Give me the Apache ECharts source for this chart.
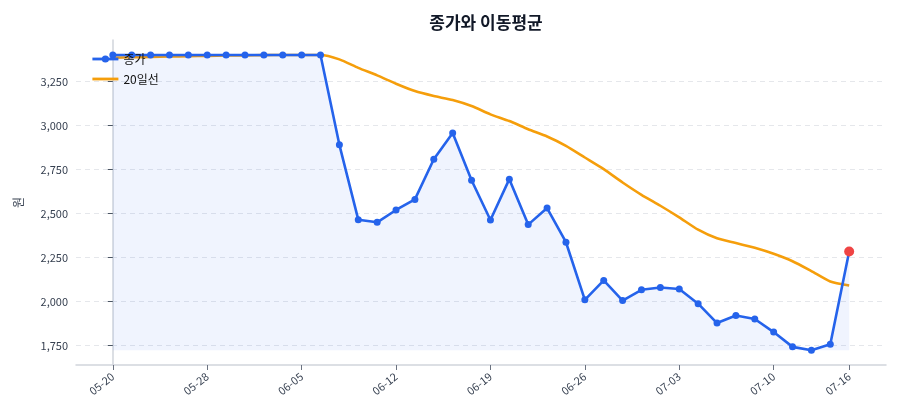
<!DOCTYPE html>
<html>
<head>
<meta charset="utf-8">
<script src="https://cdn.jsdelivr.net/npm/echarts@6/dist/echarts.min.js"></script>
<style>
  html, body { margin: 0; padding: 0; background: #fff; }
  #chart { width: 900px; height: 420px; }
</style>
</head>
<body>
<div id="chart"></div>
<script>
// 거래일 (MM-DD)
const dates = [
    '05-20', '05-21', '05-22', '05-23', '05-27', '05-28', '05-29', '05-30', '06-02', '06-04',
    '06-05', '06-06', '06-09', '06-10', '06-11', '06-12', '06-13', '06-16', '06-17', '06-18',
    '06-19', '06-20', '06-23', '06-24', '06-25', '06-26', '06-27', '06-30', '07-01', '07-02',
    '07-03', '07-04', '07-07', '07-08', '07-09', '07-10', '07-11', '07-14', '07-15', '07-16'
];

// 종가
const close = [
    3400, 3400, 3400, 3400, 3400, 3400, 3400, 3400, 3400, 3400,
    3400, 3400, 2890, 2465, 2450, 2520, 2580, 2808, 2957, 2689,
    2463, 2695, 2437, 2531, 2337, 2010, 2120, 2006, 2067, 2080,
    2071, 1988, 1878, 1921, 1901, 1827, 1743, 1724, 1758, 2284
];

// 20일 이동평균
const ma20 = [
    3385, 3387, 3389, 3391, 3393, 3395, 3397, 3398, 3399, 3400,
    3400, 3400, 3375, 3327, 3284, 3237, 3195, 3167, 3144, 3110,
    3063, 3025, 2978, 2937, 2884, 2818, 2752, 2676, 2606, 2544,
    2478, 2408, 2359, 2333, 2305, 2271, 2229, 2173, 2114, 2091
];

const xTicks = [0, 5, 10, 15, 20, 25, 30, 35, 39];
const yTicks = [1750, 2000, 2250, 2500, 2750, 3000, 3250];

const textColor = '#374151';
const fontFamily = '"Noto Sans CJK KR", "Noto Sans", sans-serif';

const lastIdx = close.length - 1;
const closeData = close.map((v, i) => {
    if (i === lastIdx) {
        return {value: [i, v], symbolSize: 10, itemStyle: {color: '#ef4444'}};
    }
    return [i, v];
});
const maData = ma20.map((v, i) => [i, v]);

const chart = echarts.init(document.getElementById('chart'));

chart.setOption({
    backgroundColor: '#fff',
    textStyle: {fontFamily: fontFamily},
    title: {
        text: '종가와 이동평균',
        left: 481,
        textAlign: 'center',
        top: 9,
        textStyle: {fontSize: 17, fontWeight: 'bold', color: '#111827', fontFamily: fontFamily}
    },
    legend: {
        orient: 'vertical',
        left: 86,
        top: 48,
        itemWidth: 26,
        itemHeight: 9,
        itemGap: 8,
        textStyle: {fontSize: 12, color: '#111', fontFamily: fontFamily},
        data: [
            {name: '종가', lineStyle: {width: 2.8}},
            {name: '20일선', lineStyle: {width: 2.8}, itemStyle: {color: 'rgba(0,0,0,0)', borderWidth: 0}}
        ]
    },
    grid: {left: 76, right: 14, top: 40, bottom: 55},
    xAxis: {
        type: 'value',
        min: -1.95,
        max: 40.95,
        axisLine: {show: true, lineStyle: {color: '#d1d5db', width: 1.5}},
        axisTick: {show: true, customValues: xTicks, length: 5, lineStyle: {color: '#6b7280'}},
        axisLabel: {
            customValues: xTicks,
            formatter: (v) => dates[Math.round(v)] || '',
            rotate: 38,
            fontSize: 11,
            color: textColor,
            margin: 10
        },
        splitLine: {show: false}
    },
    yAxis: {
        type: 'value',
        name: '원',
        nameLocation: 'middle',
        nameGap: 52,
        nameTextStyle: {fontSize: 12, color: textColor},
        min: 1640,
        max: 3485,
        axisLine: {show: true, lineStyle: {color: '#d1d5db', width: 1.5}},
        axisTick: {show: true, customValues: yTicks, length: 5, lineStyle: {color: '#4b5563'}},
        axisLabel: {
            customValues: yTicks,
            formatter: (v) => v.toLocaleString('en-US'),
            fontSize: 11,
            color: textColor,
            margin: 8
        },
        splitLine: {show: false}
    },
    series: [
        {
            // 눈금 보조선 (데이터 뒤)
            name: 'grid',
            type: 'line',
            data: [],
            z: 0,
            silent: true,
            markLine: {
                silent: true,
                z: 0,
                symbol: 'none',
                label: {show: false},
                lineStyle: {color: '#e5e7eb', type: [5, 4], width: 1},
                data: yTicks.map((v) => ({yAxis: v}))
            }
        },
        {
            name: '종가',
            type: 'line',
            data: closeData,
            symbol: 'circle',
            symbolSize: 7,
            z: 3,
            lineStyle: {color: '#2563eb', width: 2.6},
            itemStyle: {color: '#2563eb'},
            areaStyle: {color: 'rgba(37,99,235,0.1)', origin: Math.min(...close)}
        },
        {
            name: '20일선',
            type: 'line',
            data: maData,
            showSymbol: false,
            symbol: 'none',
            smooth: 0.2,
            z: 2,
            lineStyle: {color: '#f59e0b', width: 2.6},
            itemStyle: {color: '#f59e0b'}
        }
    ]
});
</script>
</body>
</html>
